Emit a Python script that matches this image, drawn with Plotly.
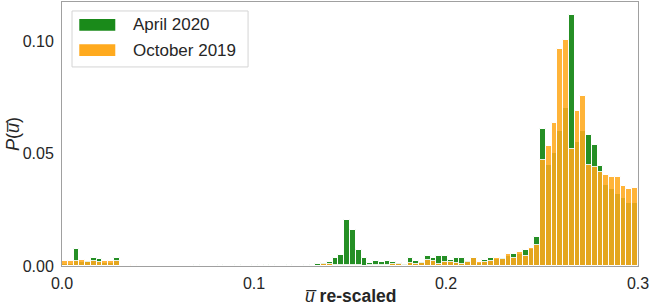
import numpy as np
import plotly.graph_objects as go

# Histogram bin edges (100 bins over 0 .. 0.3)
bin_start = 0.0
bin_width = 0.003
n_bins = 100

april_2020 = [
    0.0010, 0.0010, 0.0074, 0.0018, 0.0022, 0.0034, 0.0030, 0.0015, 0.0015, 0.0034,
    0, 0, 0, 0, 0, 0, 0, 0, 0, 0,
    0, 0, 0, 0.0004, 0, 0, 0, 0.0005, 0, 0,
    0.0003, 0, 0, 0.0003, 0, 0.0004, 0.0004, 0, 0, 0.0004,
    0, 0, 0.0004, 0, 0.0010, 0.0013, 0.0016, 0.0036, 0.0049, 0.0205,
    0.0158, 0.0070, 0.0035, 0.0014, 0.0023, 0.0017, 0.0022, 0.0016, 0.0012, 0.0008,
    0.0034, 0.0022, 0.0019, 0.0045, 0.0036, 0.0045, 0.0046, 0.0027, 0.0036, 0.0034,
    0.0022, 0.0034, 0.0015, 0.0027, 0.0036, 0.0030, 0.0034, 0.0045, 0.0052, 0.0055,
    0.0070, 0.0075, 0.0129, 0.0608, 0.0450, 0.0500, 0.0600, 0.0700, 0.1117, 0.0550,
    0.0600, 0.0582, 0.0538, 0.0444, 0.0360, 0.0340, 0.0320, 0.0300, 0.0280, 0.0280,
]

october_2019 = [
    0.0024, 0.0024, 0.0022, 0.0027, 0.0018, 0.0022, 0.0020, 0.0022, 0.0022, 0.0022,
    0, 0, 0.0003, 0, 0, 0, 0, 0, 0, 0,
    0, 0, 0, 0, 0, 0, 0, 0, 0, 0,
    0, 0, 0, 0, 0, 0, 0, 0, 0, 0,
    0, 0, 0.0002, 0.0002, 0.0002, 0.0008, 0.0008, 0.0003, 0.0003, 0.0004,
    0.0004, 0.0003, 0.0002, 0.0004, 0.0003, 0.0004, 0.0005, 0.0007, 0.0009, 0.0006,
    0.0012, 0.0008, 0.0015, 0.0025, 0.0022, 0.0010, 0.0016, 0.0016, 0.0012, 0.0008,
    0.0016, 0.0034, 0.0019, 0.0019, 0.0022, 0.0034, 0.0030, 0.0052, 0.0037, 0.0061,
    0.0046, 0.0081, 0.0095, 0.0471, 0.0533, 0.0634, 0.0963, 0.1004, 0.0521, 0.0690,
    0.0756, 0.0449, 0.0439, 0.0419, 0.0404, 0.0397, 0.0397, 0.0356, 0.0341, 0.0345,
]

series_names = ["April 2020", "October 2019"]
x_ticks = [0.0, 0.1, 0.2, 0.3]
x_tick_labels = ["0.0", "0.1", "0.2", "0.3"]
y_ticks = [0.00, 0.05, 0.10]
y_tick_labels = ["0.00", "0.05", "0.10"]

centers = bin_start + bin_width * (np.arange(n_bins) + 0.5)

GREEN = "rgb(26,138,26)"
ORANGE = "rgb(255,170,30)"
FONT = "Liberation Sans, Arial, sans-serif"
TXT = "#262626"

fig = go.Figure()
fig.add_trace(go.Bar(x=centers, y=april_2020, width=bin_width, name=series_names[0],
                     marker=dict(color=GREEN, line=dict(color="white", width=1)),
                     opacity=0.95, showlegend=False))
fig.add_trace(go.Bar(x=centers, y=october_2019, width=bin_width, name=series_names[1],
                     marker=dict(color=ORANGE, line=dict(color="white", width=1)),
                     opacity=0.88, showlegend=False))

axis_common = dict(showline=True, linecolor="#a0a0a0", linewidth=1, mirror=True,
                   showgrid=False, zeroline=False, ticks="",
                   tickfont=dict(family=FONT, size=16, color=TXT))

fig.update_layout(
    width=651, height=305,
    margin=dict(l=62, r=13, t=2, b=39),
    paper_bgcolor="white", plot_bgcolor="white",
    barmode="overlay", bargap=0,
    xaxis=dict(range=[0, 0.3], tickvals=x_ticks, ticktext=x_tick_labels,
               ticklabelstandoff=3, **axis_common),
    yaxis=dict(range=[0, 0.1173], tickvals=y_ticks, ticktext=y_tick_labels,
               ticklabelstandoff=4, **axis_common),
    showlegend=False,
)

# axis titles
fig.add_annotation(xref="paper", yref="paper", x=0.5, y=-0.112, yanchor="middle",
                   text="<i>u\u0305</i> <b>re-scaled</b>", showarrow=False,
                   font=dict(family=FONT, size=17.5, color=TXT))
fig.add_annotation(xref="paper", yref="paper", x=-0.085, y=0.5, xanchor="center",
                   text="<i>P</i>(<i>u\u0305</i>)", textangle=-90, showarrow=False,
                   font=dict(family=FONT, size=18, color=TXT))

# legend box
fig.add_shape(type="rect", xref="paper", yref="paper", x0=0.0174, x1=0.323,
              y0=0.754, y1=0.966, line=dict(color="#d4d4d4", width=1),
              fillcolor="rgba(255,255,255,0.85)", layer="above")
legend_colors = [GREEN, ORANGE]
legend_y = [0.9135, 0.8177]
for name, col, yc in zip(series_names, legend_colors, legend_y):
    fig.add_shape(type="rect", xref="paper", yref="paper", x0=0.030, x1=0.0925,
                  y0=yc - 0.0222, y1=yc + 0.0222, line=dict(width=0),
                  fillcolor=col, layer="above")
    fig.add_annotation(xref="paper", yref="paper", x=0.1198, y=yc, xanchor="left",
                       yanchor="middle", text=name, showarrow=False,
                       font=dict(family=FONT, size=17, color=TXT))

fig.write_html("out.html", config={"displayModeBar": False},
               post_script="document.body.style.margin='0';document.body.style.overflow='hidden';")
